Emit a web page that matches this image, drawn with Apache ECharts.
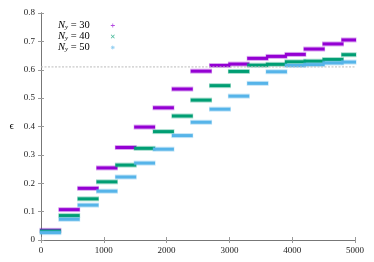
<!DOCTYPE html>
<html>
<head>
<meta charset="utf-8">
<script src="https://cdn.jsdelivr.net/npm/echarts@6/dist/echarts.min.js"></script>
<style>
html,body{margin:0;padding:0;background:#fff;}
#c{width:374px;height:262px;}
</style>
</head>
<body>
<div id="c"></div>
<script>
// ---- data ----
const stepStart = [0,300,600,900,1200,1500,1800,2100,2400,2700,3000,3300,3600,3900,4200,4500,4800];
const stepEnd   = [300,600,900,1200,1500,1800,2100,2400,2700,3000,3300,3600,3900,4200,4500,4800,5000];
const eps30 = [0.034,0.107,0.182,0.254,0.326,0.398,0.466,0.532,0.595,0.615,0.620,0.640,0.647,0.654,0.673,0.691,0.705];
const eps40 = [0.031,0.086,0.145,0.205,0.264,0.323,0.382,0.437,0.493,0.544,0.594,0.616,0.619,0.628,0.630,0.636,0.653];
const eps50 = [0.026,0.073,0.123,0.172,0.222,0.271,0.320,0.368,0.415,0.461,0.507,0.552,0.593,0.615,0.618,0.624,0.627];
const seriesNames = ['30','40','50'];
const refLevel = [0.61];
const xTicks = [0,1000,2000,3000,4000,5000];
const yTicks = [0,0.1,0.2,0.3,0.4,0.5,0.6,0.7,0.8];

const colors = ['#9400d3','#009e73','#56b4e9'];
const icons = [
  'path://M4,0H6V4H10V6H6V10H4V6H0V4H4Z',
  'path://M1.4,0L5,3.6L8.6,0L10,1.4L6.4,5L10,8.6L8.6,10L5,6.4L1.4,10L0,8.6L3.6,5L0,1.4Z',
  'path://M4.3,0H5.7V3.3L8.6,1.4L9.3,2.6L6.4,4.3H10V5.7H6.4L9.3,7.4L8.6,8.6L5.7,6.7V10H4.3V6.7L1.4,8.6L0.7,7.4L3.6,5.7H0V4.3H3.6L0.7,2.6L1.4,1.4L4.3,3.3Z'
];

function build(vals){
  return stepStart.map((s,i)=>[s, stepEnd[i], vals[i]]);
}
function renderItem(params, api){
  const p0 = api.coord([api.value(0), api.value(2)]);
  const p1 = api.coord([api.value(1), api.value(2)]);
  const c = api.visual('color');
  const x = p0[0]-1.5, w = p1[0]-p0[0]+3;
  return {
    type:'group',
    children:[
      {type:'rect', shape:{x:x, y:p0[1]-2.5, width:w, height:5}, style:{fill:c, opacity:0.35}},
      {type:'rect', shape:{x:x+0.5, y:p0[1]-1.5, width:w-1, height:3}, style:{fill:c}}
    ]
  };
}

const serif = 'Liberation Serif';
const chart = echarts.init(document.getElementById('c'), null, {renderer:'canvas'});
const axisCommon = {
  type:'value',
  axisLine:{show:true, lineStyle:{color:'#777', width:1}},
  axisTick:{show:true, inside:true, length:3, lineStyle:{color:'#999'}},
  splitLine:{show:false}
};
const series = [eps30, eps40, eps50].map((v,i)=>({
  name: seriesNames[i],
  type:'custom',
  renderItem: renderItem,
  itemStyle:{color:colors[i]},
  encode:{x:[0,1], y:2},
  data: build(v),
  z: 2+i
}));
series.push({
  name:'ref', type:'line', silent:true, symbol:'none', z:10,
  data:[[xTicks[0], refLevel[0]],[xTicks[xTicks.length-1], refLevel[0]]],
  lineStyle:{color:'#bbb', width:1, type:[2,1.5]}
});

chart.setOption({
  animation:false,
  color: colors,
  grid:{left:41, top:13, width:314, height:227, containLabel:false},
  legend:{
    orient:'vertical', left:53, top:15, align:'right',
    itemWidth:4, itemHeight:4, itemGap:0,
    data: seriesNames.map((n,i)=>({name:n, icon:icons[i], itemStyle:{opacity:0.7}})),
    formatter: n => '{i|N}{s|y}{n| = '+n+'}',
    textStyle:{
      color:'#000', fontFamily:serif, fontSize:10, padding:[0,16,0,0],
      rich:{
        i:{fontFamily:serif, fontStyle:'italic', fontSize:10.5, lineHeight:10.3},
        s:{fontFamily:serif, fontStyle:'italic', fontSize:7, lineHeight:10.3, padding:[4,0,0,0]},
        n:{fontFamily:serif, fontSize:10.5, lineHeight:10.3}
      }
    }
  },
  xAxis:[
    Object.assign({}, axisCommon, {min:xTicks[0], max:xTicks[xTicks.length-1], interval:1000, position:'bottom',
      axisLabel:{color:'#222', fontFamily:serif, fontSize:9, margin:6, formatter: v => String(v)}}),
    Object.assign({}, axisCommon, {min:xTicks[0], max:xTicks[xTicks.length-1], interval:1000, position:'top',
      axisLabel:{show:false}})
  ],
  yAxis:[
    Object.assign({}, axisCommon, {min:yTicks[0], max:yTicks[yTicks.length-1], interval:0.1, position:'left',
      name:'ϵ', nameLocation:'middle', nameRotate:0, nameGap:27,
      nameTextStyle:{fontFamily:serif, fontSize:11, color:'#000'},
      axisLabel:{color:'#222', fontFamily:serif, fontSize:9, margin:6, formatter: v => String(v)}}),
    Object.assign({}, axisCommon, {min:yTicks[0], max:yTicks[yTicks.length-1], interval:0.1, position:'right',
      axisLabel:{show:false}})
  ],
  series: series
});
</script>
</body>
</html>
